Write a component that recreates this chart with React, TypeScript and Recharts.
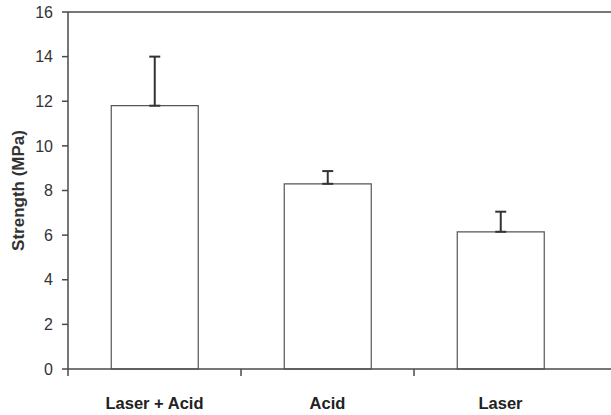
import { BarChart, Bar, XAxis, YAxis, ErrorBar, ReferenceLine } from "recharts";

const categories = ["Laser + Acid", "Acid", "Laser"];
const strength = [11.8, 8.3, 6.15];
const errorUp = [2.2, 0.57, 0.9];
const yTicks = [0, 2, 4, 6, 8, 10, 12, 14, 16];

const data = categories.map((name, i) => ({
  name,
  strength: strength[i],
  err: [0, errorUp[i]],
}));

const AXIS = "#4a4a4a";
const FONT = "'Liberation Sans', Arial, sans-serif";

function CategoryTick(props: any) {
  const { x, y, payload } = props;
  const half = payload?.offset ?? 86.5;
  return (
    <g>
      <line x1={x - half} y1={y} x2={x - half} y2={y + 7} stroke={AXIS} strokeWidth={1.5} />
      <text x={x} y={y + 40} textAnchor="middle" fill="#222" fontSize={16.5} fontWeight="bold" fontFamily={FONT}>
        {payload.value}
      </text>
    </g>
  );
}

export default function App() {
  return (
    <div style={{ position: "absolute", left: 0, top: 0, background: "#fff" }}>
      <BarChart
        width={611}
        height={415}
        data={data}
        margin={{ top: 12, right: 0, left: 0, bottom: 0 }}
        barCategoryGap="25%"
      >
        <XAxis
          dataKey="name"
          height={46}
          tickLine={false}
          tickSize={0}
          tickMargin={0}
          tick={<CategoryTick />}
          padding={{ left: 0, right: 24 }}
          stroke={AXIS}
          strokeWidth={1.5}
          interval={0}
        />
        <YAxis
          domain={[0, 16]}
          ticks={yTicks}
          width={68}
          tickSize={6}
          tickMargin={9}
          stroke={AXIS}
          strokeWidth={1.5}
          tick={{ fill: "#333", fontSize: 16, fontFamily: FONT }}
          label={{
            value: "Strength (MPa)",
            angle: -90,
            position: "insideLeft",
            offset: 18,
            style: { textAnchor: "middle", fontSize: 17, fontWeight: "bold", fill: "#333", fontFamily: FONT },
          }}
        />
        <ReferenceLine y={16} stroke={AXIS} strokeWidth={1.5} />
        <Bar dataKey="strength" fill="#fff" stroke="#555" strokeWidth={1.2} isAnimationActive={false}>
          <ErrorBar dataKey="err" width={5.5} stroke="#333" strokeWidth={2} isAnimationActive={false} />
        </Bar>
      </BarChart>
    </div>
  );
}
